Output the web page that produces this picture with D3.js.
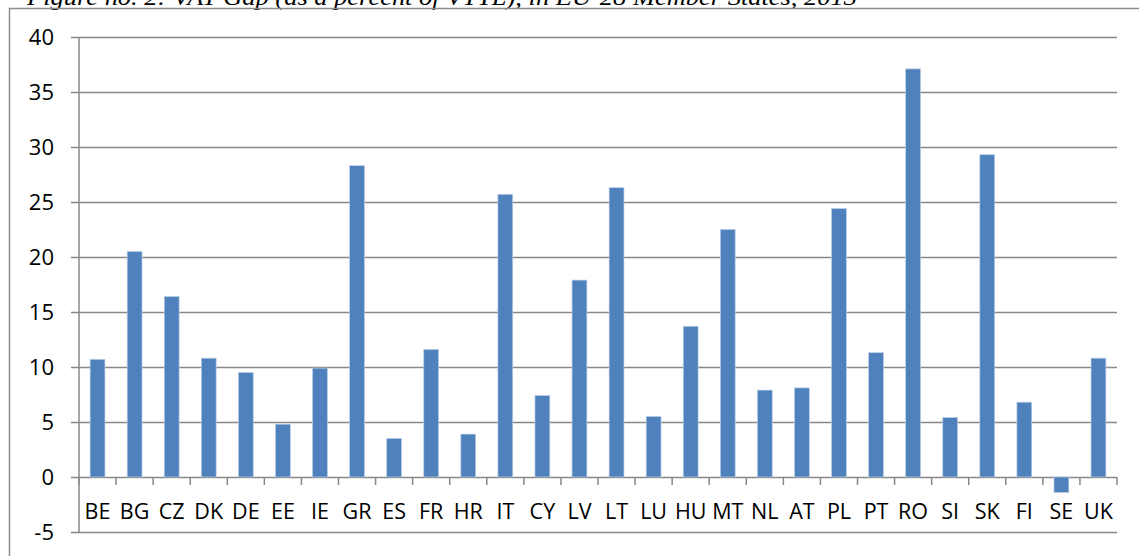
<!DOCTYPE html>
<html>
<head>
<meta charset="utf-8">
<script src="https://cdn.jsdelivr.net/npm/d3@7"></script>
<style>
  body { margin: 0; background: #fff; }
  svg { display: block; }
</style>
</head>
<body>
<div id="graph"></div>
<script>
// VAT gap by member state, 2013
var countries = ["BE","BG","CZ","DK","DE","EE","IE","GR","ES","FR","HR","IT","CY","LV",
                 "LT","LU","HU","MT","NL","AT","PL","PT","RO","SI","SK","FI","SE","UK"];
var gap = [10.7, 20.5, 16.4, 10.8, 9.5, 4.8, 9.9, 28.3, 3.5, 11.6, 3.9, 25.7, 7.4, 17.9,
           26.3, 5.5, 13.7, 22.5, 7.9, 8.1, 24.4, 11.3, 37.1, 5.4, 29.3, 6.8, -1.4, 10.8];
var yTicks = [-5, 0, 5, 10, 15, 20, 25, 30, 35, 40];
var title = "Figure no. 2: VAT Gap (as a percent of VTTL), in EU-28 Member States, 2013";

var w = 1139, h = 556;
var plotL = 79, plotR = 1117, plotT = 37, plotB = 532;

var svg = d3.select("#graph").append("svg")
    .attr("width", w)
    .attr("height", h);

// caption, clipped at the top edge like the scan
svg.append("text")
    .attr("x", 27)
    .attr("y", 5)
    .attr("font-family", "Liberation Serif, serif")
    .attr("font-style", "italic")
    .attr("font-size", 24)
    .attr("textLength", 830)
    .attr("lengthAdjust", "spacingAndGlyphs")
    .attr("fill", "#000")
    .text(title);

// chart frame
svg.append("rect")
    .attr("x", 9.5)
    .attr("y", 8.5)
    .attr("width", 1140)
    .attr("height", 560)
    .attr("fill", "none")
    .attr("stroke", "#8c8c8c")
    .attr("stroke-width", 1.5);

var y = d3.scaleLinear().domain([-5, 40]).range([plotB, plotT]);
var x = d3.scaleBand().domain(countries).range([plotL, plotR])
    .paddingInner(0.6).paddingOuter(0.3);

// horizontal gridlines + tick labels
var gy = svg.append("g")
    .attr("transform", "translate(" + plotR + ",0)");
gy.call(d3.axisLeft(y).tickValues(yTicks).tickSize(plotR - plotL + 8).tickPadding(18));
gy.select(".domain").remove();
gy.selectAll(".tick line").attr("stroke", "#888").attr("stroke-width", 1.5);
gy.selectAll(".tick text")
    .attr("font-family", "Open Sans, sans-serif")
    .attr("font-size", 22)
    .attr("fill", "#000")
    .attr("x", -(plotR - plotL) - 25)
    .text(function(d) { return d; });

// y axis line
svg.append("line")
    .attr("x1", plotL).attr("x2", plotL)
    .attr("y1", plotT).attr("y2", plotB)
    .attr("stroke", "#888").attr("stroke-width", 1.5);

// bars
svg.append("g").selectAll("rect")
    .data(gap)
    .enter()
    .append("rect")
    .attr("x", function(d, i) { return x(countries[i]); })
    .attr("y", function(d) { return y(Math.max(0, d)); })
    .attr("width", x.bandwidth())
    .attr("height", function(d) { return Math.abs(y(d) - y(0)); })
    .attr("fill", "#4f81bd")
    .attr("stroke", "#b9cde5")
    .attr("stroke-width", 0.7);

// category axis at zero, ticks between categories
var step = x.step();
var edges = d3.range(countries.length + 1).map(function(i) { return plotL + i * step; });
svg.append("g").selectAll("line")
    .data(edges)
    .enter()
    .append("line")
    .attr("x1", function(d) { return d; }).attr("x2", function(d) { return d; })
    .attr("y1", y(0)).attr("y2", y(0) + 8)
    .attr("stroke", "#888").attr("stroke-width", 1.5);

svg.append("g").selectAll("text")
    .data(countries)
    .enter()
    .append("text")
    .attr("x", function(d) { return x(d) + x.bandwidth() / 2; })
    .attr("y", 519)
    .attr("text-anchor", "middle")
    .attr("font-family", "Open Sans, sans-serif")
    .attr("font-size", 21.5)
    .attr("fill", "#000")
    .text(function(d) { return d; });
</script>
</body>
</html>
